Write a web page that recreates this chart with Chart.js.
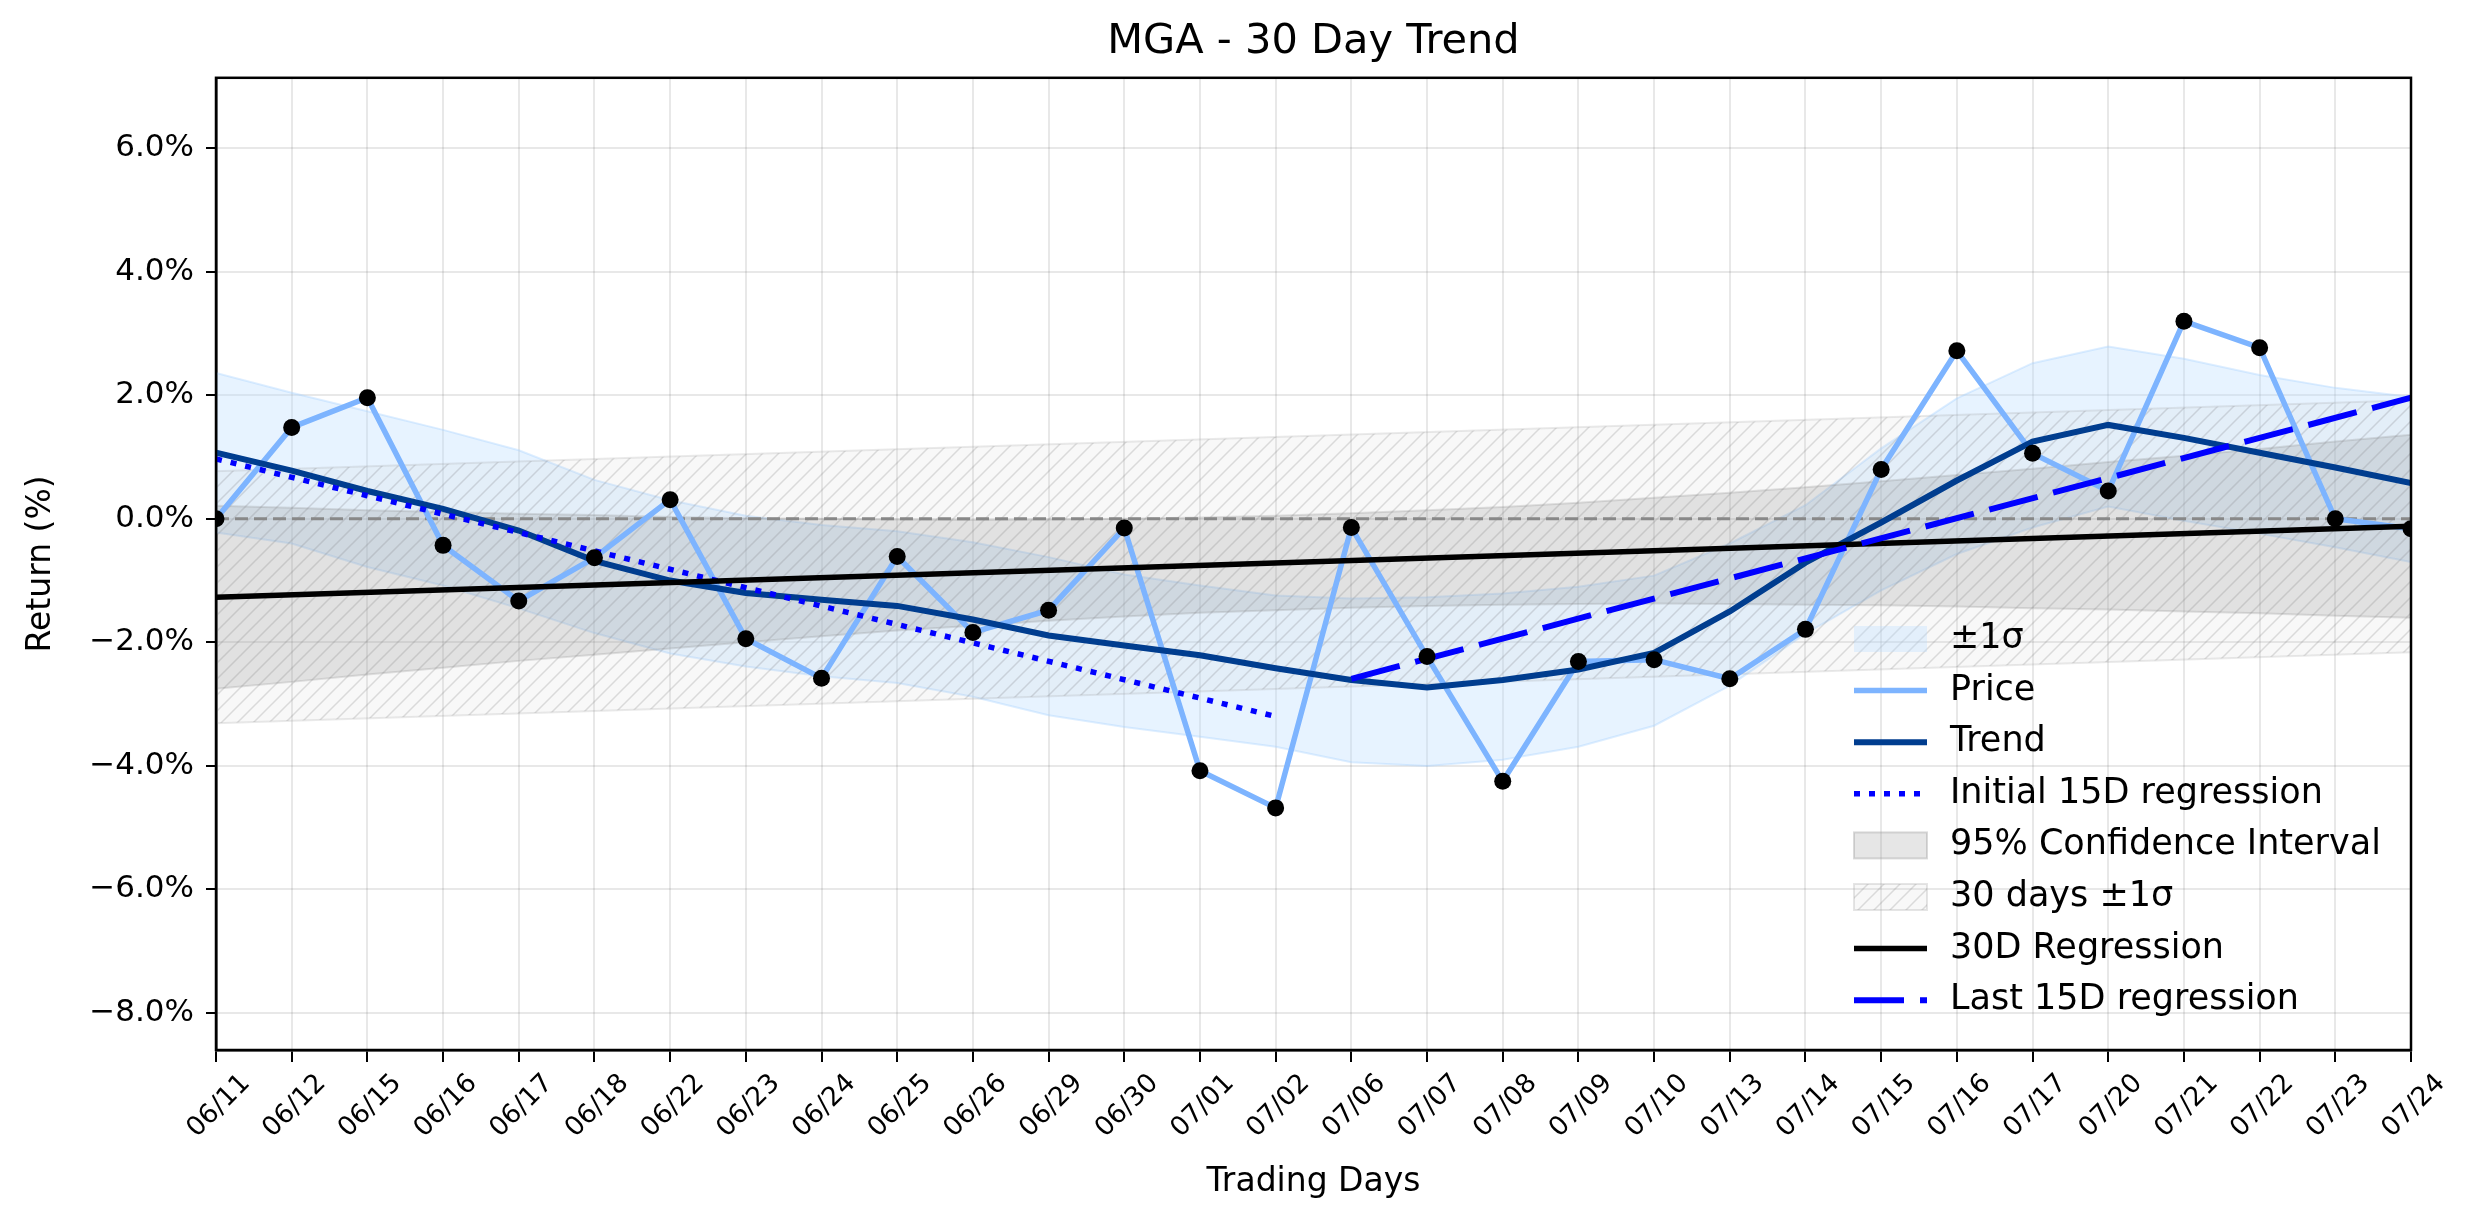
<!DOCTYPE html>
<html>
<head>
<meta charset="utf-8">
<script src="https://cdn.jsdelivr.net/npm/chart.js@4.4.0/dist/chart.umd.min.js"></script>
<style>
  html, body { margin: 0; padding: 0; background: #fff; }
</style>
</head>
<body>
<canvas id="trend" width="2474" height="1224"></canvas>
<script>
const days = ['06/11','06/12','06/15','06/16','06/17','06/18','06/22','06/23','06/24','06/25',
              '06/26','06/29','06/30','07/01','07/02','07/06','07/07','07/08','07/09','07/10',
              '07/13','07/14','07/15','07/16','07/17','07/20','07/21','07/22','07/23','07/24'];

const price = [0.00, 1.48, 1.96, -0.43, -1.33, -0.63, 0.31, -1.94, -2.58, -0.61,
               -1.84, -1.48, -0.15, -4.08, -4.68, -0.14, -2.23, -4.25, -2.31, -2.28,
               -2.59, -1.79, 0.80, 2.72, 1.06, 0.45, 3.20, 2.77, 0.00, -0.16];

const trend = [1.07, 0.78, 0.45, 0.16, -0.19, -0.68, -1.00, -1.20, -1.31, -1.41,
               -1.63, -1.89, -2.05, -2.21, -2.42, -2.61, -2.73, -2.61, -2.44, -2.17,
               -1.50, -0.71, -0.06, 0.62, 1.25, 1.52, 1.31, 1.07, 0.83, 0.58];

const sigmaUpper = [2.36, 2.04, 1.74, 1.44, 1.11, 0.63, 0.30, 0.05, -0.10, -0.20,
                    -0.38, -0.62, -0.90, -1.08, -1.24, -1.29, -1.27, -1.21, -1.10, -0.92,
                    -0.40, 0.22, 1.14, 1.95, 2.52, 2.79, 2.59, 2.33, 2.12, 1.97];
const sigmaLower = [-0.22, -0.40, -0.78, -1.08, -1.45, -1.85, -2.18, -2.39, -2.55, -2.66,
                    -2.88, -3.18, -3.37, -3.53, -3.69, -3.94, -4.00, -3.90, -3.69, -3.35,
                    -2.70, -1.86, -1.16, -0.57, -0.14, 0.20, -0.03, -0.24, -0.46, -0.70];

const ciUpper = [0.21, 0.18, 0.14, 0.11, 0.08, 0.06, 0.03, 0.01, 0.00, -0.01,
                 -0.02, -0.01, 0.00, 0.02, 0.05, 0.09, 0.14, 0.19, 0.26, 0.34,
                 0.42, 0.51, 0.61, 0.71, 0.81, 0.92, 1.02, 1.13, 1.25, 1.36];
const ciLower = [-2.75, -2.64, -2.52, -2.41, -2.30, -2.20, -2.10, -2.00, -1.90, -1.81,
                 -1.73, -1.65, -1.58, -1.52, -1.48, -1.44, -1.41, -1.39, -1.38, -1.37,
                 -1.38, -1.39, -1.40, -1.42, -1.45, -1.47, -1.50, -1.53, -1.57, -1.60];

// straight lines: value at first and last day they cover
const band30Upper = [0.77, 1.92];
const band30Lower = [-3.31, -2.16];
const reg30 = [-1.27, -0.12];
const regFirst15 = [0.97, -3.20];
const regLast15 = [-2.59, 1.96];
const zeroLine = [0, 0];

const yTickStep = 2;

const last = days.length - 1;
const pts = arr => arr.map((y, i) => ({x: i, y: y}));
const seg = (x0, x1, arr) => [{x: x0, y: arr[0]}, {x: x1, y: arr[1]}];

function hatch() {
  const c = document.createElement('canvas');
  c.width = c.height = 16;
  const g = c.getContext('2d');
  g.fillStyle = 'rgba(190,190,190,0.10)';
  g.fillRect(0, 0, 16, 16);
  g.strokeStyle = 'rgba(120,120,120,0.24)';
  g.lineWidth = 1.5;
  g.beginPath();
  g.moveTo(0, 16); g.lineTo(16, 0);
  g.moveTo(-8, 8); g.lineTo(8, -8);
  g.moveTo(8, 24); g.lineTo(24, 8);
  g.stroke();
  return g.createPattern(c, 'repeat');
}

const frame = {
  id: 'frame',
  afterDatasetsDraw(chart) {
    const {ctx, chartArea: a} = chart;
    ctx.save();
    ctx.strokeStyle = '#000';
    ctx.lineWidth = 2.5;
    ctx.strokeRect(a.left, a.top, a.right - a.left, a.bottom - a.top);
    ctx.restore();
  }
};

const legendOrder = [
  {label: '±1σ', patch: true},
  {label: 'Price'},
  {label: 'Trend'},
  {label: 'Initial 15D regression'},
  {label: '95% Confidence Interval', patch: true, edge: 'rgba(150,150,150,0.35)'},
  {label: '30 days ±1σ', patch: true, edge: 'rgba(150,150,150,0.25)'},
  {label: '30D Regression'},
  {label: 'Last 15D regression'}
];

const innerLegend = {
  id: 'innerLegend',
  afterDraw(chart) {
    const {ctx, chartArea: a} = chart;
    const textX = a.right - 461;
    const hx = textX - 96, hlen = 73;
    let y = a.bottom - 411;
    ctx.save();
    ctx.font = '35px "DejaVu Sans"';
    ctx.textBaseline = 'middle';
    legendOrder.forEach(item => {
      const ds = chart.data.datasets.find(d => d.label === item.label);
      if (item.patch) {
        ctx.fillStyle = ds.backgroundColor;
        ctx.fillRect(hx, y - 13, hlen, 26);
        if (item.edge) {
          ctx.strokeStyle = item.edge;
          ctx.lineWidth = 2;
          ctx.strokeRect(hx, y - 13, hlen, 26);
        }
      } else {
        ctx.strokeStyle = ds.borderColor;
        ctx.lineWidth = ds.borderWidth;
        ctx.setLineDash(ds.borderDash || []);
        ctx.beginPath();
        ctx.moveTo(hx, y);
        ctx.lineTo(hx + hlen, y);
        ctx.stroke();
        ctx.setLineDash([]);
      }
      ctx.fillStyle = '#000';
      ctx.fillText(item.label, textX, y);
      y += 51.6;
    });
    ctx.restore();
  }
};

const line = (label, data, color, width, dash, order) => ({
  label, data, borderColor: color, borderWidth: width, borderDash: dash || [],
  pointRadius: 0, fill: false, order, tension: 0
});

const datasets = [
  {label: 'points', data: pts(price), showLine: false, pointRadius: 8.5,
   pointBackgroundColor: '#000', pointBorderWidth: 0, order: 0},
  line('Last 15D regression', seg(15, last, regLast15), '#0000ff', 6, [50, 16], 1),
  line('30D Regression', seg(0, last, reg30), '#000000', 5.5, null, 2),
  line('Initial 15D regression', seg(0, 14, regFirst15), '#0000ff', 5.5, [6, 9], 3),
  line('Trend', pts(trend), '#003d8f', 6, null, 4),
  line('Price', pts(price), '#7db4ff', 5.5, null, 5),
  line('zero', seg(0, last, zeroLine), '#888888', 3, [13, 6], 6),
  {label: '30 days lower', data: seg(0, last, band30Lower), borderColor: 'rgba(150,150,150,0.2)',
   borderWidth: 2, pointRadius: 0, fill: false, order: 9},
  {label: '30 days ±1σ', data: seg(0, last, band30Upper), borderColor: 'rgba(150,150,150,0.2)',
   borderWidth: 2, pointRadius: 0, backgroundColor: hatch(), fill: '-1', order: 9},
  {label: 'ci lower', data: pts(ciLower), borderColor: 'rgba(128,128,128,0.22)',
   borderWidth: 2, pointRadius: 0, fill: false, order: 8},
  {label: '95% Confidence Interval', data: pts(ciUpper), borderColor: 'rgba(128,128,128,0.22)',
   borderWidth: 2, pointRadius: 0, backgroundColor: 'rgba(128,128,128,0.2)', fill: '-1', order: 8},
  {label: 'sigma lower', data: pts(sigmaLower), borderColor: 'rgba(160,205,255,0.35)',
   borderWidth: 2, pointRadius: 0, fill: false, order: 10},
  {label: '±1σ', data: pts(sigmaUpper), borderColor: 'rgba(160,205,255,0.35)',
   borderWidth: 2, pointRadius: 0, backgroundColor: 'rgba(187,221,255,0.35)', fill: '-1', order: 10}
];

const fmtPct = v => (v < 0 ? '\u2212' : '') + Math.abs(v).toFixed(1) + '%';

new Chart(document.getElementById('trend'), {
  type: 'line',
  data: {datasets},
  plugins: [frame, innerLegend],
  options: {
    responsive: false,
    devicePixelRatio: 1,
    animation: false,
    layout: {padding: {left: 0, right: 63, top: 0, bottom: 0}},
    plugins: {
      legend: {display: false},
      tooltip: {enabled: false},
      title: {
        display: true,
        text: 'MGA - 30 Day Trend',
        color: '#000',
        fullSize: false,
        font: {family: 'DejaVu Sans', size: 41.5, weight: 'normal'},
        padding: {top: 17, bottom: 11}
      }
    },
    scales: {
      x: {
        type: 'linear',
        min: 0,
        max: last,
        afterFit: s => { s.height = 174; },
        border: {display: true, color: '#000', width: 2.5},
        grid: {color: 'rgba(0,0,0,0.09)', lineWidth: 2, tickColor: '#000', tickLength: 12, tickWidth: 2},
        ticks: {
          stepSize: 1,
          autoSkip: false,
          maxTicksLimit: 60,
          minRotation: 45,
          maxRotation: 45,
          labelOffset: 30,
          padding: 6,
          color: '#000',
          font: {family: 'DejaVu Sans', size: 26.5},
          callback: v => days[Math.round(v)]
        },
        title: {
          display: true,
          text: 'Trading Days',
          color: '#000',
          font: {family: 'DejaVu Sans', size: 33},
          padding: {top: 0, bottom: 22}
        }
      },
      y: {
        min: -8.6,
        max: 7.14,
        afterFit: s => { s.width = 216; },
        border: {display: true, color: '#000', width: 2.5},
        grid: {color: 'rgba(0,0,0,0.09)', lineWidth: 2, tickColor: '#000', tickLength: 10, tickWidth: 2},
        ticks: {
          stepSize: yTickStep,
          includeBounds: false,
          padding: 12,
          color: '#000',
          font: {family: 'DejaVu Sans', size: 31},
          callback: v => fmtPct(v)
        },
        title: {
          display: true,
          text: 'Return (%)',
          color: '#000',
          font: {family: 'DejaVu Sans', size: 33},
          padding: {top: 22, bottom: 0}
        }
      }
    }
  }
});
</script>
</body>
</html>
